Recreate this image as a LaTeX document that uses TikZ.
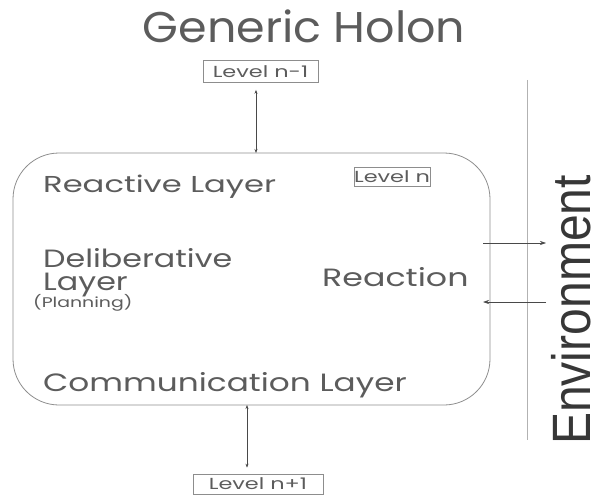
\documentclass[tikz,border=0pt]{standalone}
\usepackage{graphicx}
\usepackage{fontspec}
\setmainfont{Poppins}
\newfontfamily\envfont{Liberation Sans}
\usetikzlibrary{arrows.meta,calc}
\definecolor{ink}{gray}{0.36}
\newcommand\wide[2]{\scalebox{#1}[1]{#2}}
\tikzset{
  lbl/.style={text=ink, inner sep=0pt, anchor=base west},
  body/.style={lbl, font=\fontsize{25}{25}\selectfont},
  lvlbox/.style={draw=ink!70, line width=0.7pt, text=ink, font=\fontsize{16}{16}\selectfont, inner sep=0pt, minimum height=22pt},
  link/.style={draw=ink!80!black, line width=0.6pt, {Stealth[length=4pt,width=3pt]}-{Stealth[length=4pt,width=3pt]}},
  flow/.style={draw=ink!80!black, line width=0.6pt, -{Stealth[length=6pt,width=4pt]}},
}
\begin{document}
\begin{tikzpicture}[x=1pt,y=-1pt]
  \useasboundingbox (0,0) rectangle (603,495);

  % title
  \node[text=ink, font=\fontsize{43}{43}\selectfont, anchor=base, inner sep=0pt] (title) at (304,43) {\wide{1.07}{Generic Holon}};

  % the holon body
  \draw[ink!70, line width=0.8pt, rounded corners=46pt] (13,153) rectangle (490,405);
  \coordinate (htop) at (256,153);
  \coordinate (hbot) at (247,405);

  % level boxes
  \node[lvlbox, minimum width=115pt] (lvlup) at (260.5,71.5) {\wide{1.4}{Level n-1}};
  \node[lvlbox, minimum width=74pt, minimum height=19pt] (lvln) at (392,176.5) {\wide{1.4}{Level n}};
  \node[lvlbox, minimum width=130pt, minimum height=20pt] (lvldown) at (258,484) {\wide{1.4}{Level n+1}};

  % layer names
  \node[lbl, font=\fontsize{23}{23}\selectfont] (react) at (43,192) {\wide{1.4}{Reactive Layer}};
  \node[body] (delib) at (43,267) {\wide{1.27}{Deliberative}};
  \node[body] (delib2) at (43,290) {\wide{1.27}{Layer}};
  \node[lbl, font=\fontsize{14}{14}\selectfont] (plan) at (33,307) {\wide{1.35}{(Planning)}};
  \node[body] (reaction) at (322,286) {\wide{1.33}{Reaction}};
  \node[body] (comm) at (43,391) {\wide{1.31}{Communication Layer}};

  % links to the neighbouring levels
  \draw[link] ([yshift=-7pt]lvlup.south -| htop) -- (htop);
  \draw[link] (hbot) -- ([yshift=6pt]lvldown.north -| hbot);

  % environment boundary
  \coordinate (envtop) at (527,80);
  \coordinate (envbot) at (527,440);
  \draw[gray!60, line width=0.6pt] (envtop) -- (envbot);
  \node[text=ink!60!black, font=\envfont\fontsize{54}{54}\selectfont, rotate=90, xscale=0.89, anchor=base, inner sep=0pt] (env) at (590,310) {Environment};

  % exchange with the environment
  \coordinate (out1) at (483,243);
  \coordinate (out2) at (546,243);
  \coordinate (in1) at (546,302);
  \coordinate (in2) at (483,302);
  \draw[flow] (out1) -- (out2);
  \draw[flow] (in1) -- (in2);
\end{tikzpicture}
\end{document}
